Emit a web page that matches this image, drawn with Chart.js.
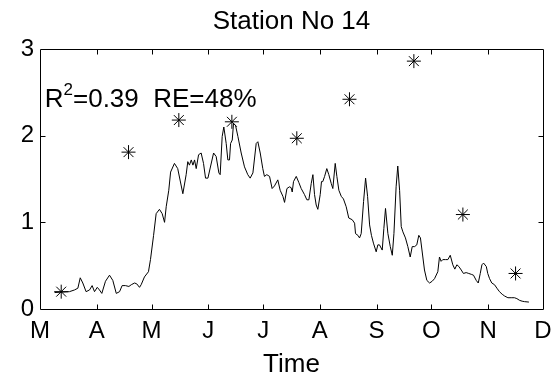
<!DOCTYPE html>
<html><head><meta charset="utf-8">
<script src="https://cdn.jsdelivr.net/npm/chart.js@4.4.0/dist/chart.umd.min.js"></script>
<style>html,body{margin:0;padding:0;background:#fff;}canvas{display:block;}</style>
</head><body>
<canvas id="c" width="558" height="378"></canvas>
<script>
// x axis: days since 1 March
const monthStarts = [0, 31, 61, 92, 122, 153, 184, 214, 245, 275];
const monthLabels = ['M', 'A', 'M', 'J', 'J', 'A', 'S', 'O', 'N', 'D'];
const yTickValues = [0, 1, 2, 3];

const chartTitle = 'Station No 14';
const xAxisTitle = 'Time';
const statR2 = '0.39';
const statRE = '48%';
const annotDay = 2.6;
const annotValue = 2.33;

// simulated series (line)
const lineDays = [8,16.1,18.9,20.7,22.0,23.4,25.2,27.1,28.5,29.8,31.3,32.5,33.8,35.8,38.0,39.8,41.7,43.5,44.9,46.7,48.6,49.9,51.7,52.9,54.4,55.3,57.1,59.3,60.4,62.1,63.5,65.3,66.8,68.1,69.0,70.4,71.4,73.5,75.3,78.1,79.9,80.8,81.7,82.7,83.6,84.5,85.4,86.7,88.1,89.4,90.5,91.8,94.9,96.3,97.8,98.5,99.6,100.5,101.8,102.7,103.6,104.2,105.1,105.8,106.9,108.2,110.0,111.8,113.6,114.9,116.4,118.2,119.1,120.4,121.8,122.7,124.0,125.5,126.9,128.2,130.0,131.3,132.8,133.7,135.0,136.4,137.3,137.9,138.6,140.1,141.5,142.8,144.6,145.9,147.0,148.3,149.2,150.1,151.0,151.9,153.2,153.9,154.6,155.6,156.8,157.9,159.2,160.1,161.4,162.3,163.4,164.7,165.9,167.4,168.8,170.7,172.0,172.5,173.8,174.7,175.6,176.9,178.0,179.1,180.2,181.2,182.3,183.8,184.7,185.6,187.1,188.0,188.9,190.2,191.5,192.6,193.5,194.7,195.6,196.6,197.5,198.4,199.8,201.1,202.4,203.5,204.8,206.0,207.1,208.0,209.3,210.2,211.5,213.0,214.4,215.7,217.5,218.4,219.3,220.2,221.7,223.0,224.3,225.7,226.8,227.9,229.0,230.3,231.5,233.0,234.4,235.8,237.0,238.5,239.6,240.7,241.6,242.5,244.0,244.8,245.8,247.0,248.5,249.8,251.2,252.7,254.0,255.8,257.6,259.4,260.7,262.2,263.6,264.9,267.3];
const lineValues = [0.19,0.20,0.22,0.24,0.36,0.30,0.20,0.22,0.27,0.20,0.25,0.22,0.18,0.32,0.39,0.33,0.18,0.20,0.27,0.27,0.26,0.28,0.30,0.29,0.25,0.28,0.37,0.43,0.57,0.85,1.10,1.15,1.10,1.00,1.18,1.37,1.58,1.68,1.62,1.33,1.55,1.70,1.66,1.72,1.66,1.72,1.62,1.78,1.80,1.68,1.51,1.51,1.80,1.76,1.57,1.55,1.99,2.10,1.91,1.72,1.72,1.91,1.95,2.14,2.12,1.99,1.80,1.64,1.55,1.51,1.57,1.91,1.93,1.80,1.62,1.53,1.55,1.53,1.39,1.42,1.49,1.37,1.30,1.23,1.39,1.41,1.40,1.35,1.47,1.53,1.46,1.39,1.32,1.26,1.26,1.45,1.55,1.32,1.20,1.15,1.32,1.47,1.47,1.53,1.62,1.55,1.45,1.39,1.68,1.53,1.37,1.30,1.27,1.18,1.05,1.03,0.99,0.87,0.85,0.82,0.87,1.24,1.51,1.30,0.97,0.85,0.76,0.66,0.74,0.74,0.68,0.93,1.16,0.87,0.72,0.62,0.87,1.41,1.65,1.37,0.95,0.89,0.82,0.72,0.60,0.72,0.72,0.74,0.85,0.82,0.60,0.45,0.33,0.30,0.32,0.35,0.43,0.60,0.55,0.57,0.57,0.57,0.62,0.51,0.46,0.51,0.49,0.45,0.41,0.42,0.41,0.40,0.39,0.33,0.30,0.41,0.51,0.53,0.49,0.41,0.35,0.30,0.28,0.24,0.20,0.17,0.15,0.13,0.13,0.13,0.12,0.10,0.09,0.085,0.08];

// observations (stars)
const obsDays = [11.6, 48.4, 75.9, 104.9, 140.4, 169.2, 204.4, 231.2, 260.0];
const obsValues = [0.20, 1.81, 2.18, 2.16, 1.97, 2.42, 2.86, 1.09, 0.41];

const FONT = "'Liberation Sans', Arial, Helvetica, sans-serif";
Chart.defaults.font.family = FONT;
Chart.defaults.color = '#000';

const framePlugin = {
  id: 'frame',
  afterDatasetsDraw(chart) {
    const {ctx, chartArea: a, scales: {x, y}} = chart;
    const L = Math.round(a.left) + 0.5, R = Math.round(a.right) + 0.5;
    const T = Math.round(a.top) + 0.5, B = Math.round(a.bottom) + 0.5;
    const tl = 5;
    ctx.save();
    ctx.strokeStyle = '#000';
    ctx.lineWidth = 1;
    ctx.beginPath();
    ctx.rect(L, T, R - L, B - T);
    monthStarts.slice(1, -1).forEach(v => {
      const px = Math.round(x.getPixelForValue(v)) + 0.5;
      ctx.moveTo(px, B); ctx.lineTo(px, B - tl);
      ctx.moveTo(px, T); ctx.lineTo(px, T + tl);
    });
    yTickValues.slice(1, -1).forEach(v => {
      const py = Math.round(y.getPixelForValue(v)) + 0.5;
      ctx.moveTo(L, py); ctx.lineTo(L + tl, py);
      ctx.moveTo(R, py); ctx.lineTo(R - tl, py);
    });
    ctx.stroke();
    // statistics annotation
    let tx = x.getPixelForValue(annotDay);
    const ty = y.getPixelForValue(annotValue);
    ctx.fillStyle = '#000';
    ctx.textBaseline = 'alphabetic';
    ctx.textAlign = 'left';
    ctx.font = '26px ' + FONT;
    ctx.fillText('R', tx, ty);
    tx += ctx.measureText('R').width;
    ctx.font = '17px ' + FONT;
    ctx.fillText('2', tx, ty - 12);
    tx += ctx.measureText('2').width;
    ctx.font = '26px ' + FONT;
    ctx.fillText('=' + statR2 + '  RE=' + statRE, tx, ty);
    ctx.restore();
  }
};

new Chart(document.getElementById('c'), {
  type: 'scatter',
  data: {
    datasets: [
      {
        label: 'Observed',
        data: obsDays.map((d, i) => ({x: d, y: obsValues[i]})),
        pointStyle: 'star',
        pointRadius: 7,
        borderColor: '#000',
        backgroundColor: 'rgba(0,0,0,0)',
        borderWidth: 1,
        showLine: false
      },
      {
        label: 'Simulated',
        data: lineDays.map((d, i) => ({x: d, y: lineValues[i]})),
        showLine: true,
        borderColor: '#000',
        borderWidth: 1,
        pointRadius: 0,
        tension: 0,
        fill: false
      }
    ]
  },
  options: {
    responsive: false,
    animation: false,
    layout: {padding: {left: 0, right: 15, top: 0, bottom: 0}},
    plugins: {
      legend: {display: false},
      tooltip: {enabled: false},
      title: {
        display: true,
        fullSize: false,
        text: chartTitle,
        color: '#000',
        font: {family: FONT, size: 26, weight: 'normal', lineHeight: 1.2},
        padding: {top: 6, bottom: 11.8}
      }
    },
    scales: {
      x: {
        type: 'linear',
        min: 0, max: 275,
        grid: {display: false, drawTicks: false},
        border: {display: false},
        afterBuildTicks: s => { s.ticks = monthStarts.map(v => ({value: v})); },
        afterFit: s => { s.height = 69; s.paddingLeft = 0; s.paddingRight = 0; },
        ticks: {
          autoSkip: false, maxRotation: 0, minRotation: 0, padding: 8,
          color: '#000',
          font: {family: FONT, size: 24, lineHeight: 1.2},
          callback: v => monthLabels[monthStarts.indexOf(v)]
        },
        title: {
          display: true, text: xAxisTitle, color: '#000',
          font: {family: FONT, size: 26, lineHeight: 1},
          padding: {top: 0, bottom: 0}
        }
      },
      y: {
        type: 'linear',
        min: 0, max: 3,
        grid: {display: false, drawTicks: false},
        border: {display: false},
        afterBuildTicks: s => { s.ticks = yTickValues.map(v => ({value: v})); },
        afterFit: s => { s.width = 40; s.paddingTop = 0; s.paddingBottom = 0; },
        ticks: {
          padding: 6, color: '#000',
          font: {family: FONT, size: 24, lineHeight: 1.2}
        }
      }
    }
  },
  plugins: [framePlugin]
});
</script>
</body></html>
